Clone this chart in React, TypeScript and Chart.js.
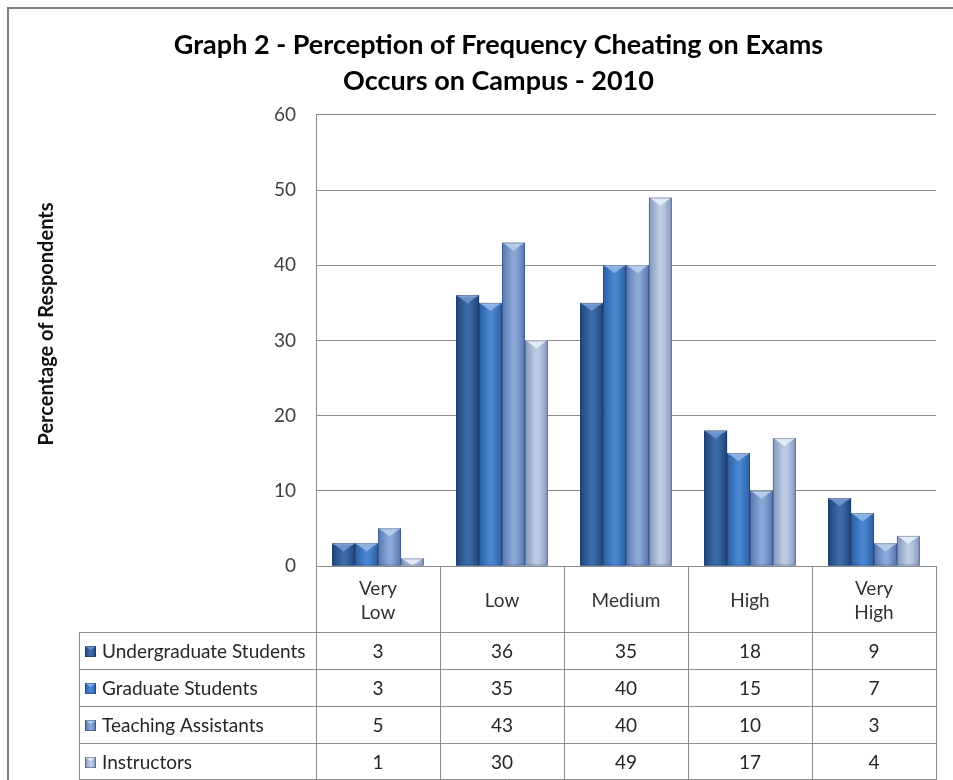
import React, { useEffect, useRef } from "react";
import { Chart, registerables } from "chart.js";

Chart.register(...registerables);

// ---- data ----
const categories = ["Very Low", "Low", "Medium", "High", "Very High"];
const seriesNames = ["Undergraduate Students", "Graduate Students", "Teaching Assistants", "Instructors"];
const undergraduate = [3, 36, 35, 18, 9];
const graduate = [3, 35, 40, 15, 7];
const teachingAssistants = [5, 43, 40, 10, 3];
const instructors = [1, 30, 49, 17, 4];
const titleLines = ["Graph 2 - Perception of Frequency Cheating on Exams", "Occurs on Campus - 2010"];
const yAxisTitle = "Percentage of Respondents";
const yMin = 0;
const yMax = 60;
const yStep = 10;

const FONT = "Lato, 'Open Sans', sans-serif";
const GRID = "#8c8c8c";

const palettes = [
  { edge: "#1f4479", mid: "#3b6aa8", base: "#2c5791", bevel: "#6a93cc" },
  { edge: "#2a5ea3", mid: "#4a86d0", base: "#3a72bb", bevel: "#86b0e6" },
  { edge: "#5476b0", mid: "#8aa8d6", base: "#6f91c7", bevel: "#b4cbec" },
  { edge: "#8396bb", mid: "#bccae3", base: "#a4b5d6", bevel: "#e2eaf7" },
];

function barGradient(ctx: CanvasRenderingContext2D, left: number, right: number, p: any) {
  const g = ctx.createLinearGradient(left, 0, right, 0);
  g.addColorStop(0, p.edge);
  g.addColorStop(0.45, p.mid);
  g.addColorStop(0.6, p.mid);
  g.addColorStop(1, p.edge);
  return g;
}

const excelPlugin = {
  id: "excelStyle",
  afterDatasetsDraw(chart: any) {
    const ctx: CanvasRenderingContext2D = chart.ctx;
    const area = chart.chartArea;
    ctx.save();
    ctx.beginPath();
    ctx.rect(area.left, area.top - 2, area.right - area.left, area.bottom - area.top + 2);
    ctx.clip();
    chart.data.datasets.forEach((_ds: any, di: number) => {
      const meta = chart.getDatasetMeta(di);
      const p = palettes[di];
      meta.data.forEach((el: any) => {
        const { x, y, base, width } = el.getProps(["x", "y", "base", "width"], true);
        const left = x - width / 2;
        const right = x + width / 2;
        const top = Math.min(y, base);
        const h = Math.abs(base - y);
        ctx.fillStyle = barGradient(ctx, left, right, p);
        ctx.fillRect(left, top, width, h);
        // bevel on top
        const b = Math.min(8, h);
        ctx.fillStyle = p.bevel;
        ctx.beginPath();
        ctx.moveTo(left + 1, top);
        ctx.lineTo(right - 1, top);
        ctx.lineTo(x, top + b);
        ctx.closePath();
        ctx.fill();
        ctx.fillStyle = "rgba(255,255,255,0.35)";
        ctx.fillRect(left + 1, top, width - 2, 1.5);
        // edge outline
        ctx.strokeStyle = "rgba(20,40,80,0.35)";
        ctx.lineWidth = 1;
        ctx.strokeRect(left + 0.5, top + 0.5, width - 1, h - 1);
      });
    });
    ctx.restore();
  },
  afterDraw(chart: any) {
    const ctx: CanvasRenderingContext2D = chart.ctx;
    const area = chart.chartArea;
    const xs = chart.scales.x;
    const n = categories.length;
    const colW = (area.right - area.left) / n;
    const headerBottom = Math.round(xs.bottom);
    const H = chart.height;
    const rows = seriesNames.length;
    const rowH = (H - headerBottom) / rows;
    const legendLeft = 79;

    ctx.save();
    ctx.strokeStyle = GRID;
    ctx.lineWidth = 1;
    // vertical lines of table
    for (let i = 0; i <= n; i++) {
      const xx = Math.round(area.left + i * colW) + 0.5;
      ctx.beginPath();
      ctx.moveTo(xx, area.bottom);
      ctx.lineTo(xx, H);
      ctx.stroke();
    }
    // legend column left border
    ctx.beginPath();
    ctx.moveTo(legendLeft + 0.5, headerBottom);
    ctx.lineTo(legendLeft + 0.5, H);
    ctx.stroke();
    // horizontal lines
    for (let r = 0; r <= rows; r++) {
      let yy = Math.round(headerBottom + r * rowH) + 0.5;
      if (yy > H - 0.5) yy = H - 0.5;
      ctx.beginPath();
      ctx.moveTo(legendLeft, yy);
      ctx.lineTo(area.right, yy);
      ctx.stroke();
    }

    // table values and legend
    ctx.textBaseline = "middle";
    ctx.font = `19px ${FONT}`;
    chart.data.datasets.forEach((ds: any, di: number) => {
      const cy = headerBottom + di * rowH + rowH / 2 + 1;
      // icon
      const p = palettes[di];
      const ix = 85, iy = Math.round(cy - 6), s = 11;
      ctx.fillStyle = barGradient(ctx, ix, ix + s, p);
      ctx.fillRect(ix, iy, s, s);
      ctx.fillStyle = p.bevel;
      ctx.beginPath();
      ctx.moveTo(ix, iy);
      ctx.lineTo(ix + s, iy);
      ctx.lineTo(ix + s / 2, iy + 4);
      ctx.closePath();
      ctx.fill();
      ctx.strokeStyle = "rgba(20,40,80,0.4)";
      ctx.strokeRect(ix + 0.5, iy + 0.5, s - 1, s - 1);
      // label
      ctx.fillStyle = "#262626";
      ctx.textAlign = "left";
      ctx.fillText(ds.label, 102, cy);
      // values
      ctx.textAlign = "center";
      ds.data.forEach((v: number, i: number) => {
        ctx.fillText(String(v), xs.getPixelForValue(i), cy);
      });
    });

    // y axis title
    ctx.save();
    ctx.translate(47, 324);
    ctx.rotate(-Math.PI / 2);
    ctx.font = `bold 20px ${FONT}`;
    ctx.fillStyle = "#111";
    ctx.textAlign = "center";
    ctx.textBaseline = "middle";
    ctx.fillText(yAxisTitle, 0, 0);
    ctx.restore();

    // outer frame
    ctx.strokeStyle = "#7f7f7f";
    ctx.lineWidth = 2;
    ctx.beginPath();
    ctx.moveTo(8, H);
    ctx.lineTo(8, 8);
    ctx.lineTo(chart.width, 8);
    ctx.stroke();
    ctx.restore();
  },
};

export default function App() {
  const ref = useRef<HTMLCanvasElement | null>(null);
  useEffect(() => {
    if (!ref.current) return;
    const seriesValues = [undergraduate, graduate, teachingAssistants, instructors];
    const chart = new Chart(ref.current, {
      type: "bar",
      data: {
        labels: categories,
        datasets: seriesNames.map((name, i) => ({
          label: name,
          data: seriesValues[i],
          backgroundColor: palettes[i].base,
          borderWidth: 0,
          categoryPercentage: 0.74,
          barPercentage: 1.0,
        })),
      },
      options: {
        animation: false,
        responsive: false,
        layout: { padding: { left: 61, right: 17, top: 0, bottom: 148 } },
        plugins: {
          legend: { display: false },
          tooltip: { enabled: false },
          title: {
            display: true,
            text: titleLines,
            color: "#000",
            font: { family: FONT, size: 27, weight: "bold", lineHeight: 1.333 },
            padding: { top: 27, bottom: 16 },
          },
        },
        scales: {
          x: {
            grid: { display: false, drawTicks: false },
            border: { display: true, color: GRID },
            ticks: {
              color: "#333",
              font: { family: FONT, size: 19, lineHeight: 1.26 },
              padding: 23,
              crossAlign: "center",
              maxRotation: 0,
              autoSkip: false,
              callback: (_v: any, i: number) => {
                const c = categories[i];
                return c.startsWith("Very ") ? ["Very", c.slice(5)] : c;
              },
            },
            afterFit: (s: any) => {
              s.height = 66;
            },
          },
          y: {
            min: yMin,
            max: yMax,
            ticks: {
              stepSize: yStep,
              color: "#404040",
              font: { family: FONT, size: 19 },
              padding: 20,
            },
            grid: { color: GRID, drawTicks: false },
            border: { display: true, color: GRID },
            afterFit: (s: any) => {
              s.width = 255;
            },
          },
        },
      },
      plugins: [excelPlugin],
    });
    return () => chart.destroy();
  }, []);
  return (
    <div style={{ position: "fixed", left: 0, top: 0, width: 953, height: 780, background: "#fff" }}>
      <canvas ref={ref} width={953} height={780} style={{ display: "block" }} />
    </div>
  );
}
